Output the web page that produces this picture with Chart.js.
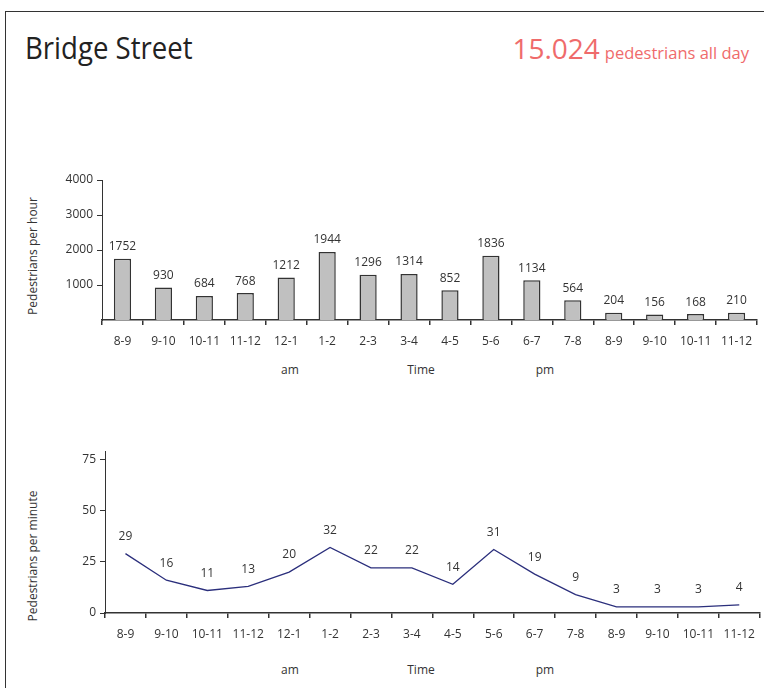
<!DOCTYPE html>
<html>
<head>
<meta charset="utf-8">
<script src="https://cdn.jsdelivr.net/npm/chart.js@4.4.1/dist/chart.umd.min.js"></script>
<style>
  html, body { margin: 0; padding: 0; background: #fff; }
  body { width: 764px; height: 688px; position: relative; overflow: hidden; font-family: "Open Sans", sans-serif; }
  .frame { position: absolute; left: 5px; top: 11px; width: 800px; height: 800px; border: 1px solid #333; }
  .title { position: absolute; left: 25px; top: 26px; font: 31px "Open Sans", sans-serif; color: #222; transform: scaleX(0.89); transform-origin: left top; white-space: nowrap; }
  .total { position: absolute; right: 15px; top: 29px; color: #ef6b6b; white-space: nowrap; }
  .total .num { font: 28px "Open Sans", sans-serif; }
  .total .txt { font: 16.5px "Open Sans", sans-serif; margin-left: 5px; }
  .lbl { position: absolute; font-size: 12px; color: #333; transform: translateX(-50%); white-space: nowrap; }
  .ytitle { position: absolute; font-size: 12px; color: #333; white-space: nowrap; transform: translate(-50%, -50%) rotate(-90deg); }
  canvas { position: absolute; left: 0; }
</style>
</head>
<body>
<div class="frame"></div>
<div class="title">Bridge Street</div>
<div class="total"><span class="num">15.024</span><span class="txt">pedestrians all day</span></div>

<div class="ytitle" style="left:32px; top:256px;">Pedestrians per hour</div>
<div class="ytitle" style="left:32px; top:556px;">Pedestrians per minute</div>

<div class="lbl" style="left:290px; top:361px;">am</div>
<div class="lbl" style="left:421px; top:361px;">Time</div>
<div class="lbl" style="left:545px; top:361px;">pm</div>
<div class="lbl" style="left:290px; top:661px;">am</div>
<div class="lbl" style="left:421px; top:661px;">Time</div>
<div class="lbl" style="left:545px; top:661px;">pm</div>

<canvas id="hourChart" width="764" height="200" style="top:165px"></canvas>
<canvas id="minuteChart" width="764" height="220" style="top:440px"></canvas>

<script>
  var timeSlots = ['8-9', '9-10', '10-11', '11-12', '12-1', '1-2', '2-3', '3-4', '4-5', '5-6', '6-7', '7-8', '8-9', '9-10', '10-11', '11-12'];
  var perHour = [1752, 930, 684, 768, 1212, 1944, 1296, 1314, 852, 1836, 1134, 564, 204, 156, 168, 210];
  var perMinute = [29, 16, 11, 13, 20, 32, 22, 22, 14, 31, 19, 9, 3, 3, 3, 4];
  var hourTicks = [1000, 2000, 3000, 4000];
  var minuteTicks = [0, 25, 50, 75];

  var INK = '#333';
  var tickFont = { family: "'Open Sans', sans-serif", size: 12 };

  // draws the value above each bar / point
  var valueLabels = {
    id: 'valueLabels',
    afterDatasetsDraw: function (chart, args, opts) {
      var ctx = chart.ctx;
      var meta = chart.getDatasetMeta(0);
      var data = chart.data.datasets[0].data;
      ctx.save();
      ctx.font = "12px 'Open Sans', sans-serif";
      ctx.fillStyle = INK;
      ctx.textAlign = 'center';
      ctx.textBaseline = 'middle';
      meta.data.forEach(function (el, i) {
        ctx.fillText(String(data[i]), el.x, el.y - opts.gap);
      });
      ctx.restore();
    }
  };

  function yScale(max, ticks, leftWidth) {
    return {
      min: 0, max: max,
      afterBuildTicks: function (s) { s.ticks = ticks.map(function (v) { return { value: v }; }); },
      afterFit: function (s) { s.width = leftWidth; },
      border: { color: INK, width: 1 },
      grid: { drawOnChartArea: false, color: INK, tickLength: 5 },
      ticks: { color: INK, font: tickFont, padding: 4, callback: function (v) { return String(v); } }
    };
  }

  function xScale(height) {
    return {
      offset: true,
      afterFit: function (s) { s.height = height; },
      border: { color: INK, width: 1.5 },
      grid: { offset: true, drawOnChartArea: false, color: INK, tickLength: 5, lineWidth: 1.5 },
      ticks: { color: INK, font: tickFont, padding: 9, maxRotation: 0, autoSkip: false }
    };
  }

  new Chart(document.getElementById('hourChart').getContext('2d'), {
    type: 'bar',
    data: {
      labels: timeSlots,
      datasets: [{
        data: perHour,
        backgroundColor: '#c0c0c0',
        borderColor: '#333',
        borderWidth: 1.5,
        categoryPercentage: 1,
        barPercentage: 0.42
      }]
    },
    options: {
      responsive: false,
      animation: false,
      layout: { padding: { top: 15, right: 7, left: 0, bottom: 0 } },
      plugins: { legend: { display: false }, tooltip: { enabled: false }, valueLabels: { gap: 12 } },
      scales: { x: xScale(45), y: yScale(4000, hourTicks, 102) }
    },
    plugins: [valueLabels]
  });

  new Chart(document.getElementById('minuteChart').getContext('2d'), {
    type: 'line',
    data: {
      labels: timeSlots,
      datasets: [{
        data: perMinute,
        borderColor: '#2b2f7c',
        borderWidth: 1.3,
        pointRadius: 0,
        tension: 0,
        fill: false
      }]
    },
    options: {
      responsive: false,
      animation: false,
      layout: { padding: { top: 11, right: 3, left: 0, bottom: 0 } },
      plugins: { legend: { display: false }, tooltip: { enabled: false }, valueLabels: { gap: 17 } },
      scales: { x: xScale(47), y: yScale(79, minuteTicks, 105) }
    },
    plugins: [valueLabels]
  });
</script>
</body>
</html>
